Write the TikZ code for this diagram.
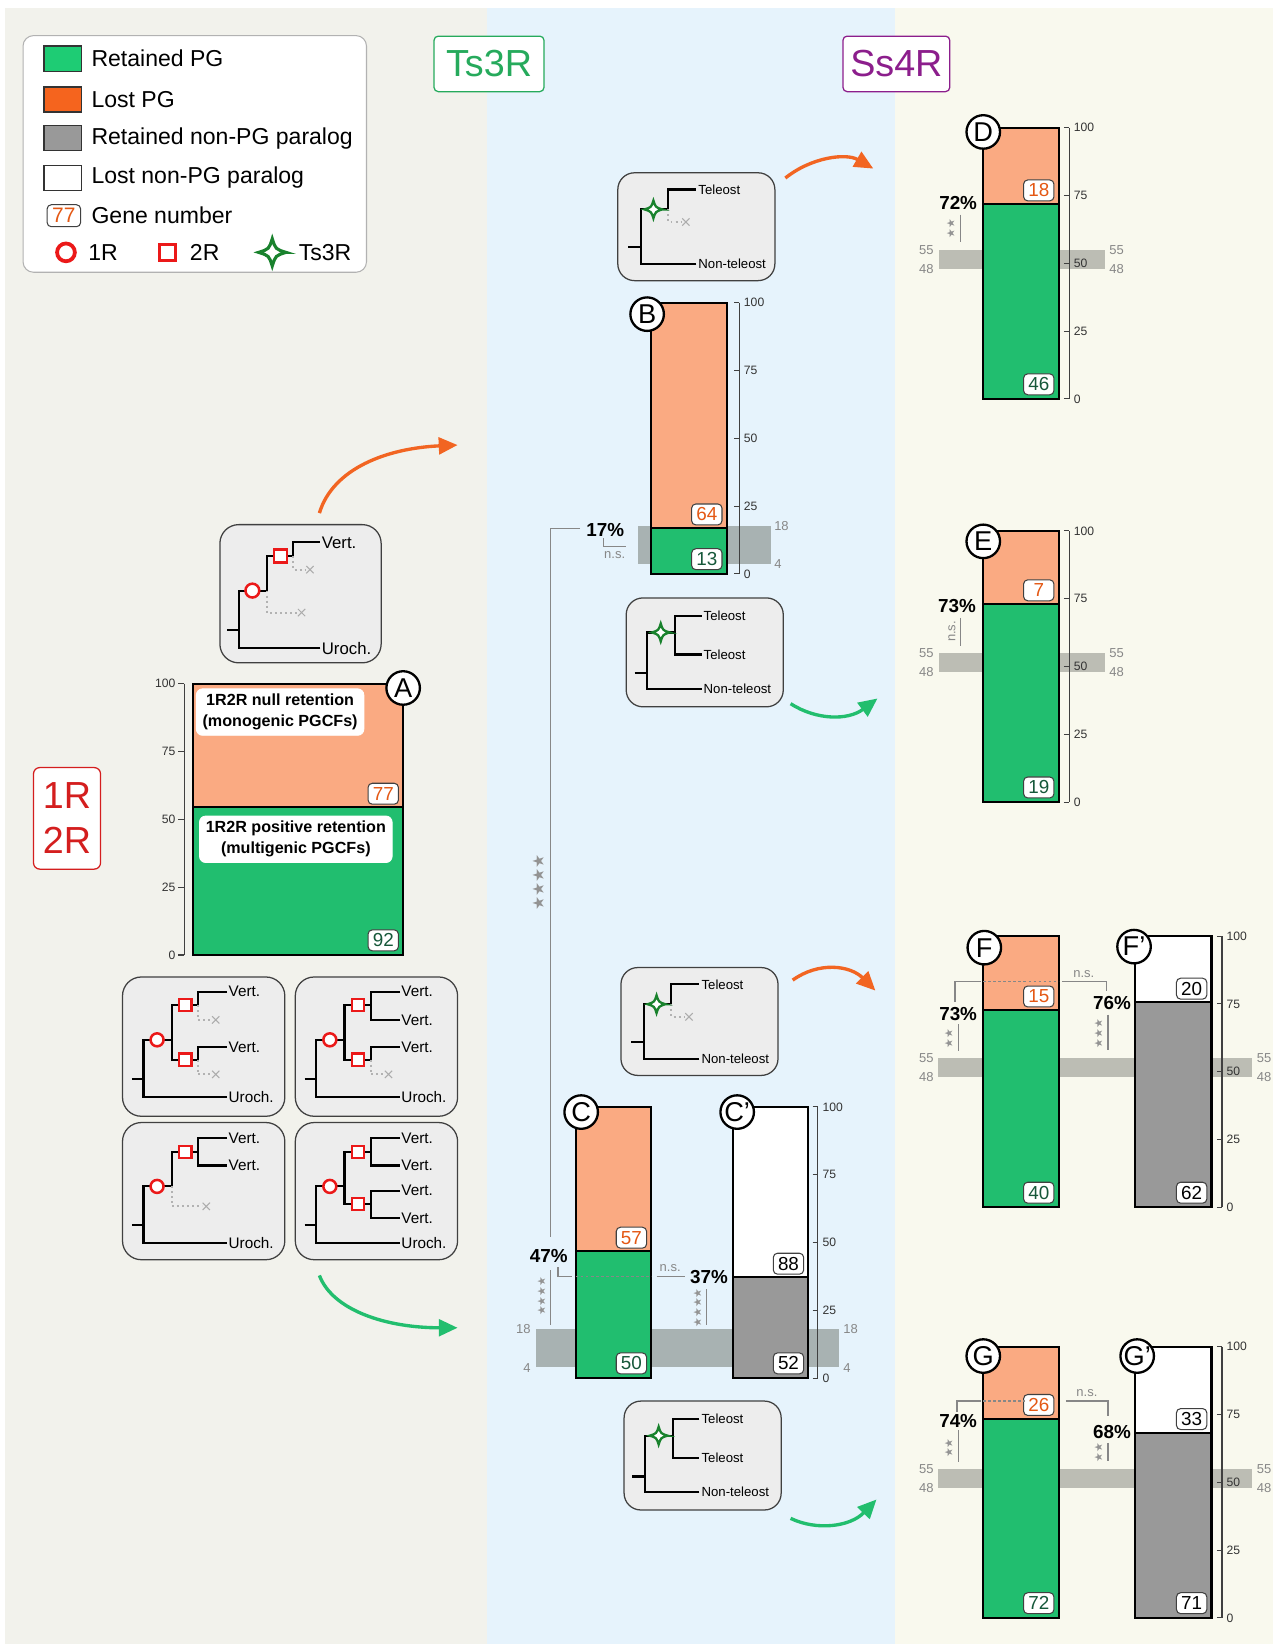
\documentclass[tikz,border=0pt]{standalone}
\usepackage{fontspec}
\setmainfont{Liberation Sans}
\newfontfamily\symfont{DejaVu Sans}
\usetikzlibrary{arrows.meta}

\definecolor{bgleft}{RGB}{242,242,236}
\definecolor{bgmid}{RGB}{230,243,252}
\definecolor{bgright}{RGB}{249,249,238}
\definecolor{leggreen}{RGB}{30,204,116}
\definecolor{legorange}{RGB}{245,100,30}
\definecolor{retfill}{RGB}{33,190,111}
\definecolor{lostfill}{RGB}{250,170,130}
\definecolor{parafill}{RGB}{153,153,153}
\definecolor{numorange}{RGB}{228,88,20}
\definecolor{numgreen}{RGB}{22,88,58}
\definecolor{tsgreen}{RGB}{38,170,92}
\definecolor{sspurple}{RGB}{140,30,140}
\definecolor{onetwored}{RGB}{212,30,30}
\definecolor{markred}{RGB}{235,25,25}
\definecolor{stargreen}{RGB}{25,130,45}
\definecolor{bandmid}{RGB}{168,178,178}
\definecolor{bandright}{RGB}{188,189,180}
\definecolor{treebg}{RGB}{237,237,237}
\definecolor{arroworange}{RGB}{242,101,34}
\definecolor{arrowgreen}{RGB}{34,190,110}
\definecolor{sig}{RGB}{135,135,135}

\tikzset{
  barline/.style={draw=black, line width=1pt},
  swatch/.style={draw=black!80, line width=0.6pt},
  legtext/.style={anchor=west, inner sep=0pt, font=\fontsize{11}{11}\selectfont},
  numbox/.style={draw=black!75, fill=white, rounded corners=2pt, line width=0.5pt, inner sep=0pt,
    minimum width=14.5pt, minimum height=10pt, font=\fontsize{9}{9}\selectfont},
  panel/.style={circle, draw=black, line width=1.1pt, fill=white, inner sep=0pt, minimum size=16pt,
    font=\fontsize{13}{13}\selectfont},
  pct/.style={font=\bfseries\fontsize{9}{9}\selectfont, inner sep=0pt},
  graytxt/.style={font=\fontsize{6.2}{6.2}\selectfont, text=sig, inner sep=0.5pt},
  starsig/.style={font=\symfont\fontsize{5.2}{5.2}\selectfont, text=sig!90, inner sep=0pt, rotate=90},
  axisnum/.style={font=\fontsize{5.8}{5.8}\selectfont, text=black!80, inner sep=1pt},
  axisline/.style={draw=black!75, line width=0.5pt},
  sigline/.style={draw=sig, line width=0.6pt},
  treebox/.style={draw=black!75, fill=treebg, line width=0.6pt, rounded corners=8pt},
  branch/.style={draw=black, line width=1pt},
  gone/.style={draw=gray!60, line width=0.9pt, dash pattern=on 0.9pt off 1.5pt},
  ring/.style={circle, draw=markred, fill=white, line width=1.2pt, inner sep=0pt, minimum size=6.2pt},
  box2r/.style={rectangle, draw=markred, fill=white, line width=1.1pt, inner sep=0pt, minimum size=5.8pt},
  leafA/.style={anchor=west, inner sep=0.5pt, font=\fontsize{8}{8}\selectfont},
  leafV/.style={anchor=west, inner sep=0.5pt, font=\fontsize{7.3}{7.3}\selectfont},
  leafs/.style={anchor=west, inner sep=0.8pt, font=\fontsize{6.3}{6.3}\selectfont},
  bigarrow/.style={line width=1.6pt, -{Triangle[length=9pt, width=8pt]}},
  ts3r/.pic={\draw[stargreen, fill=white] (5,0) .. controls (1.2,1.2) .. (0,5)
    .. controls (-1.2,1.2) .. (-5,0) .. controls (-1.2,-1.2) .. (0,-5)
    .. controls (1.2,-1.2) .. cycle;},
  lossx/.pic={\draw[gray!65, line width=0.5pt] (-3.5,-3.5) -- (3.5,3.5) (-3.5,3.5) -- (3.5,-3.5);}
}

% PG bar: name, x, top, width, retained fraction, lost number, retained number
\newcommand{\pgbar}[7]{%
  \pgfmathsetmacro{\ysplit}{#3+259*(1-#5)}
  \pgfmathsetmacro{\xright}{#2+#4}
  \fill[lostfill] (#2,#3) rectangle (\xright,\ysplit);
  \fill[retfill] (#2,\ysplit) rectangle (\xright,#3+259);
  \draw[barline] (#2,\ysplit) -- (\xright,\ysplit);
  \draw[barline] (#2,#3) rectangle (\xright,#3+259);
  \node[numbox, text=numorange] (#1-lost) at (\xright-19,\ysplit-13) {#6};
  \node[numbox, text=numgreen] (#1-ret) at (\xright-19,#3+245) {#7};
}
% non-PG paralog bar, same arguments
\newcommand{\parabar}[7]{%
  \pgfmathsetmacro{\ysplit}{#3+259*(1-#5)}
  \pgfmathsetmacro{\xright}{#2+#4}
  \fill[white] (#2,#3) rectangle (\xright,\ysplit);
  \fill[parafill] (#2,\ysplit) rectangle (\xright,#3+259);
  \draw[barline] (#2,\ysplit) -- (\xright,\ysplit);
  \draw[barline] (#2,#3) rectangle (\xright,#3+259);
  \node[numbox] (#1-lost) at (\xright-19,\ysplit-13) {#6};
  \node[numbox] (#1-ret) at (\xright-19,#3+245) {#7};
}
% percent axis with labels on the right: name, x, top
\newcommand{\rightaxis}[3]{%
  \draw[axisline] (#2,#3) -- (#2,#3+259);
  \foreach \v in {0,25,50,75,100}
    \draw[axisline] (#2-5,{#3+259*(1-\v/100)}) -- (#2,{#3+259*(1-\v/100)})
      node[axisnum, anchor=west, xshift=1pt] (#1\v) {\v};
}
% teleost trees
\newcommand{\teleLost}[1]{%
  \draw[treebox] (0,0) rectangle (150,103);
  \draw[branch] (10,71) -- (22,71);
  \draw[branch] (75,87) -- (22,87) -- (22,35) -- (48,35) -- (48,16) -- (75,16);
  \draw[gone] (48,35) -- (48,47) -- (61,47);
  \pic at (65,47) {lossx};
  \pic[line width=1.1pt, scale=1.7] at (34,35) {ts3r};
  \node[leafs] (#1-tel) at (75,16) {Teleost};
  \node[leafs] (#1-non) at (75,87) {Non-teleost};
}
\newcommand{\teleKept}[1]{%
  \draw[treebox] (0,0) rectangle (150,104);
  \draw[branch] (8,72) -- (20,72);
  \draw[branch] (72,87) -- (20,87) -- (20,33) -- (47,33);
  \draw[branch] (72,17) -- (47,17) -- (47,54) -- (72,54);
  \pic[line width=1.1pt, scale=1.7] at (33,33) {ts3r};
  \node[leafs] (#1-tela) at (72,17) {Teleost};
  \node[leafs] (#1-telb) at (72,54) {Teleost};
  \node[leafs] (#1-non) at (72,87) {Non-teleost};
}

\begin{document}
\begin{tikzpicture}[x=0.5pt,y=-0.5pt]
\useasboundingbox (0,0) rectangle (1221,1570);
% panels
\fill[white] (0,0) rectangle (1221,1570);
\fill[bgleft] (5,8) rectangle (465,1570);
\fill[bgmid] (465,8) rectangle (855,1570);
\fill[bgright] (855,8) rectangle (1216,1570);

% legend
\draw[draw=gray!60, fill=white, rounded corners=5pt, line width=0.5pt] (22,34) rectangle (350,260);
\filldraw[swatch, fill=leggreen] (42,44) rectangle (78,68);
\filldraw[swatch, fill=legorange] (42,83) rectangle (78,107);
\filldraw[swatch, fill=parafill] (42,120) rectangle (78,144);
\filldraw[swatch, fill=white] (42,158) rectangle (78,182);
\node[legtext] (legret) at (87,56) {Retained PG};
\node[legtext] (leglost) at (87,95) {Lost PG};
\node[legtext] (legpara) at (87,132) {Retained non-PG paralog};
\node[legtext] (leglpara) at (87,170) {Lost non-PG paralog};
\node[numbox, text=numorange, minimum width=16pt, minimum height=10.5pt, font=\fontsize{10}{10}\selectfont] (leg77) at (61,206) {77};
\node[legtext] (leggene) at (87,206) {Gene number};
\node[ring, minimum size=8.5pt, line width=1.8pt] (leg1r) at (63,241) {};
\node[legtext] (leg1rt) at (84,241) {1R};
\node[box2r, minimum size=7.5pt, line width=1.6pt] (leg2r) at (160,241) {};
\node[legtext] (leg2rt) at (181,241) {2R};
\pic[line width=1.5pt, scale=2.6] at (260,241) {ts3r};
\node[legtext] (legts) at (285,241) {Ts3R};

% column titles
\node[draw=tsgreen, fill=white, rounded corners=2pt, line width=0.6pt, minimum width=52.5pt, minimum height=26.5pt,
  text=tsgreen, font=\fontsize{18}{18}\selectfont] (tstitle) at (467,61) {Ts3R};
\node[draw=sspurple, fill=white, rounded corners=2pt, line width=0.6pt, minimum width=51pt, minimum height=26.5pt,
  text=sspurple, font=\fontsize{18}{18}\selectfont] (sstitle) at (856,61) {Ss4R};
\node[draw=onetwored, fill=white, rounded corners=3pt, line width=0.6pt, minimum width=32pt, minimum height=48.5pt,
  text=onetwored, align=center, font=\fontsize{18}{21.5}\selectfont] (onetwo) at (64,781.5) {1R\\2R};

% null expectation bands
\fill[bandmid] (609,502.2) rectangle (736,538.6);
\fill[bandmid] (512,1269.4) rectangle (801,1305.6);
\fill[bandright] (897,238.5) rectangle (1055,256.7);
\fill[bandright] (897,623.5) rectangle (1055,641.7);
\fill[bandright] (896,1010.5) rectangle (1196,1028.7);
\fill[bandright] (896,1402.5) rectangle (1196,1420.7);
\node[graytxt, anchor=west] (bB18) at (738,502) {18};
\node[graytxt, anchor=west] (bB4) at (738,539) {4};
\node[graytxt, anchor=east] (bC18l) at (508,1269) {18};
\node[graytxt, anchor=east] (bC4l) at (508,1306) {4};
\node[graytxt, anchor=west] (bC18r) at (804,1269) {18};
\node[graytxt, anchor=west] (bC4r) at (804,1306) {4};
\foreach \yb/\nm in {238.5/D,623.5/E}{
  \node[graytxt, anchor=east] (b\nm55l) at (893,\yb) {55};
  \node[graytxt, anchor=east] (b\nm48l) at (893,\yb+18.2) {48};
  \node[graytxt, anchor=west] (b\nm55r) at (1058,\yb) {55};
  \node[graytxt, anchor=west] (b\nm48r) at (1058,\yb+18.2) {48};
}
\foreach \yb/\nm in {1010.5/F,1402.5/G}{
  \node[graytxt, anchor=east] (b\nm55l) at (893,\yb) {55};
  \node[graytxt, anchor=east] (b\nm48l) at (893,\yb+18.2) {48};
  \node[graytxt, anchor=west] (b\nm55r) at (1199,\yb) {55};
  \node[graytxt, anchor=west] (b\nm48r) at (1199,\yb+18.2) {48};
}

% bars
\pgbar{A}{184}{653}{201}{0.5444}{77}{92}
\pgbar{B}{622}{289}{72}{0.1688}{64}{13}
\pgbar{C}{550}{1057}{72}{0.4673}{57}{50}
\parabar{Cp}{700}{1057}{72}{0.3714}{88}{52}
\pgbar{D}{939}{122}{72}{0.7188}{18}{46}
\pgbar{E}{939}{507}{72}{0.7308}{7}{19}
\pgbar{F}{939}{894}{72}{0.7273}{15}{40}
\parabar{Fp}{1084}{894}{73}{0.7561}{20}{62}
\pgbar{G}{939}{1286}{72}{0.7347}{26}{72}
\parabar{Gp}{1084}{1286}{73}{0.6827}{33}{71}

% axes
\draw[axisline] (176,653) -- (176,912);
\foreach \v in {0,25,50,75,100}
  \draw[axisline] (176,{912-2.59*\v}) -- (170,{912-2.59*\v}) node[axisnum, anchor=east] (axA\v) {\v};
\rightaxis{axB}{706}{289}
\rightaxis{axCp}{781}{1057}
\rightaxis{axD}{1021}{122}
\rightaxis{axE}{1021}{507}
\rightaxis{axFp}{1167}{894}
\rightaxis{axGp}{1167}{1286}

% A labels
\node[draw=white, fill=white, rounded corners=3pt, align=center, inner xsep=3pt, inner ysep=2.5pt,
  font=\bfseries\fontsize{7.7}{10}\selectfont] (nullret) at (267.5,680) {1R2R null retention\\(monogenic PGCFs)};
\node[draw=white, fill=white, rounded corners=3pt, align=center, inner xsep=3pt, inner ysep=2.5pt,
  font=\bfseries\fontsize{7.7}{10}\selectfont] (posret) at (282.5,801.5) {1R2R positive retention\\(multigenic PGCFs)};

% significance, Ts3R
\node[pct] (pctB) at (578,506) {17\%};
\draw[sigline] (554,505) -- (526,505) -- (526,1181);
\node[starsig, font=\symfont\fontsize{7.5}{7.5}\selectfont] (starsBC) at (514,843) {★★★★};
\draw[sigline] (576,514) -- (576,522) -- (598,522);
\node[graytxt] (nsB) at (587,530) {n.s.};
\node[pct] (pctC) at (524,1199) {47\%};
\draw[sigline] (526,1213) -- (526,1265);
\node[starsig] (starsC) at (517,1238) {★★★★};
\draw[sigline] (533,1210) -- (533,1219) -- (546,1219);
\draw[sigline, dash pattern=on 1.2pt off 1.2pt] (550,1219) -- (622,1219);
\draw[sigline] (627,1219) -- (654,1219);
\node[graytxt] (nsC) at (640,1211) {n.s.};
\node[pct] (pctCp) at (677,1220) {37\%};
\draw[sigline] (675,1231) -- (675,1265);
\node[starsig] (starsCp) at (666,1249) {★★★★};

% significance, Ss4R
\node[pct] (pctD) at (915,194) {72\%};
\draw[sigline] (917,205) -- (917,231);
\node[starsig] (starsD) at (908,218) {★★};
\node[pct] (pctE) at (914,579) {73\%};
\draw[sigline] (917,590) -- (917,617);
\node[graytxt, rotate=90] (nsE) at (909,603) {n.s.};
\node[pct] (pctF) at (915,968) {73\%};
\draw[sigline] (915,978) -- (915,1004);
\node[starsig] (starsF) at (906,992) {★★};
\draw[sigline] (912,957) -- (912,937) -- (937,937);
\draw[sigline, dash pattern=on 1.2pt off 1.2pt] (939,937) -- (1011,937);
\draw[sigline] (1014,937) -- (1057,937) -- (1057,946);
\node[graytxt] (nsF) at (1035,930) {n.s.};
\node[pct] (pctFp) at (1062,958) {76\%};
\draw[sigline] (1058,969) -- (1058,1003);
\node[starsig] (starsFp) at (1049,987) {★★★};
\node[pct] (pctG) at (915,1357) {74\%};
\draw[sigline] (915,1366) -- (915,1396);
\node[starsig] (starsG) at (906,1383) {★★};
\draw[sigline] (914,1348) -- (914,1338) -- (937,1338);
\draw[sigline, dash pattern=on 1.2pt off 1.2pt] (939,1338) -- (979,1338);
\draw[sigline] (1018,1338) -- (1058,1338) -- (1058,1352);
\node[graytxt] (nsG) at (1038,1330) {n.s.};
\node[pct] (pctGp) at (1062,1368) {68\%};
\draw[sigline] (1058,1378) -- (1058,1395);
\node[starsig] (starsGp) at (1049,1387) {★★};

% panel letters
\node[panel] (pA) at (385,657) {A};
\node[panel] (pB) at (618,300) {B};
\node[panel] (pC) at (555,1062) {C};
\node[panel] (pCp) at (704,1062) {C'};
\node[panel] (pD) at (939,126) {D};
\node[panel] (pE) at (939,517) {E};
\node[panel] (pF) at (940,905) {F};
\node[panel] (pFp) at (1083,904) {F'};
\node[panel] (pG) at (939,1295) {G};
\node[panel] (pGp) at (1086,1295) {G'};

% 1R2R trees
\begin{scope}[shift={(210,501)}]
  \draw[treebox, rounded corners=9pt] (0,0) rectangle (154,132);
  \draw[branch] (7,101) -- (18,101);
  \draw[branch] (96,118) -- (18,118) -- (18,63) -- (45,63) -- (45,30) -- (70,30) -- (70,17) -- (96,17);
  \draw[gone] (45,63) -- (45,84) -- (74,84);
  \draw[gone] (70,30) -- (70,43) -- (82,43);
  \pic at (78,84) {lossx};
  \pic at (86,43) {lossx};
  \node[ring, minimum size=6.6pt] (t0r1) at (31,63) {};
  \node[box2r, minimum size=6.2pt] (t0r2) at (58,30) {};
  \node[leafA] (t0v) at (96,17) {Vert.};
  \node[leafA] (t0u) at (96,118) {Uroch.};
\end{scope}
\begin{scope}[shift={(117,933)}]
  \draw[treebox, rounded corners=9pt] (0,0) rectangle (155,133);
  \draw[branch] (9,97) -- (20,97);
  \draw[branch] (100,115) -- (20,115) -- (20,60) -- (47,60);
  \draw[branch] (100,14) -- (72,14) -- (72,27) -- (47,27) -- (47,79) -- (72,79) -- (72,67) -- (100,67);
  \draw[gone] (72,27) -- (72,41) -- (85,41);
  \draw[gone] (72,79) -- (72,93) -- (85,93);
  \pic at (89,41) {lossx};
  \pic at (89,93) {lossx};
  \node[ring] (t1r1) at (33,60) {};
  \node[box2r] (t1r2a) at (60,27) {};
  \node[box2r] (t1r2b) at (60,79) {};
  \node[leafV] (t1va) at (100,14) {Vert.};
  \node[leafV] (t1vb) at (100,67) {Vert.};
  \node[leafV] (t1u) at (100,115) {Uroch.};
\end{scope}
\begin{scope}[shift={(282,933)}]
  \draw[treebox, rounded corners=9pt] (0,0) rectangle (155,133);
  \draw[branch] (9,97) -- (20,97);
  \draw[branch] (100,115) -- (20,115) -- (20,60) -- (47,60);
  \draw[branch] (100,14) -- (72,14) -- (72,41) -- (100,41);
  \draw[branch] (72,27) -- (47,27) -- (47,79) -- (72,79) -- (72,67) -- (100,67);
  \draw[gone] (72,79) -- (72,93) -- (85,93);
  \pic at (89,93) {lossx};
  \node[ring] (t2r1) at (33,60) {};
  \node[box2r] (t2r2a) at (60,27) {};
  \node[box2r] (t2r2b) at (60,79) {};
  \node[leafV] (t2va) at (100,14) {Vert.};
  \node[leafV] (t2vb) at (100,41) {Vert.};
  \node[leafV] (t2vc) at (100,67) {Vert.};
  \node[leafV] (t2u) at (100,115) {Uroch.};
\end{scope}
\begin{scope}[shift={(117,1072)}]
  \draw[treebox, rounded corners=9pt] (0,0) rectangle (155,131);
  \draw[branch] (9,98) -- (20,98);
  \draw[branch] (100,115) -- (20,115) -- (20,61) -- (47,61) -- (47,28) -- (72,28);
  \draw[branch] (100,15) -- (72,15) -- (72,41) -- (100,41);
  \draw[gone] (47,61) -- (47,80) -- (76,80);
  \pic at (80,80) {lossx};
  \node[ring] (t3r1) at (33,61) {};
  \node[box2r] (t3r2) at (60,28) {};
  \node[leafV] (t3va) at (100,15) {Vert.};
  \node[leafV] (t3vb) at (100,41) {Vert.};
  \node[leafV] (t3u) at (100,115) {Uroch.};
\end{scope}
\begin{scope}[shift={(282,1072)}]
  \draw[treebox, rounded corners=9pt] (0,0) rectangle (155,131);
  \draw[branch] (9,98) -- (20,98);
  \draw[branch] (100,115) -- (20,115) -- (20,61) -- (47,61);
  \draw[branch] (72,28) -- (47,28) -- (47,78) -- (72,78);
  \draw[branch] (100,15) -- (72,15) -- (72,41) -- (100,41);
  \draw[branch] (100,65) -- (72,65) -- (72,91) -- (100,91);
  \node[ring] (t4r1) at (33,61) {};
  \node[box2r] (t4r2a) at (60,28) {};
  \node[box2r] (t4r2b) at (60,78) {};
  \node[leafV] (t4va) at (100,15) {Vert.};
  \node[leafV] (t4vb) at (100,41) {Vert.};
  \node[leafV] (t4vc) at (100,65) {Vert.};
  \node[leafV] (t4vd) at (100,91) {Vert.};
  \node[leafV] (t4u) at (100,115) {Uroch.};
\end{scope}

% Ts3R trees
\begin{scope}[shift={(590,165)}] \teleLost{tsa} \end{scope}
\begin{scope}[shift={(598,571)}] \teleKept{tsb} \end{scope}
\begin{scope}[shift={(593,924)}] \teleLost{tsc} \end{scope}
\begin{scope}[shift={(596,1338)}] \teleKept{tsd} \end{scope}

% arrows
\coordinate (arA1) at (305,490);   \coordinate (arB) at (437,425);
\coordinate (arA2) at (305,1218);  \coordinate (arC) at (437,1268);
\coordinate (arTa) at (750,170);   \coordinate (arD) at (834,161);
\coordinate (arTb) at (755,672);   \coordinate (arE) at (838,667);
\coordinate (arTc) at (757,936);   \coordinate (arF) at (836,946);
\coordinate (arTd) at (755,1450);  \coordinate (arG) at (837,1432);
\draw[bigarrow, arroworange] (arA1) .. controls (318,447) and (370,428) .. (arB);
\draw[bigarrow, arrowgreen] (arA2) .. controls (318,1252) and (370,1268) .. (arC);
\draw[bigarrow, arroworange] (arTa) .. controls (775,150) and (808,146) .. (arD);
\draw[bigarrow, arrowgreen] (arTb) .. controls (780,688) and (810,688) .. (arE);
\draw[bigarrow, arroworange] (arTc) .. controls (782,918) and (812,922) .. (arF);
\draw[bigarrow, arrowgreen] (arTd) .. controls (780,1462) and (812,1458) .. (arG);

\end{tikzpicture}
\end{document}
